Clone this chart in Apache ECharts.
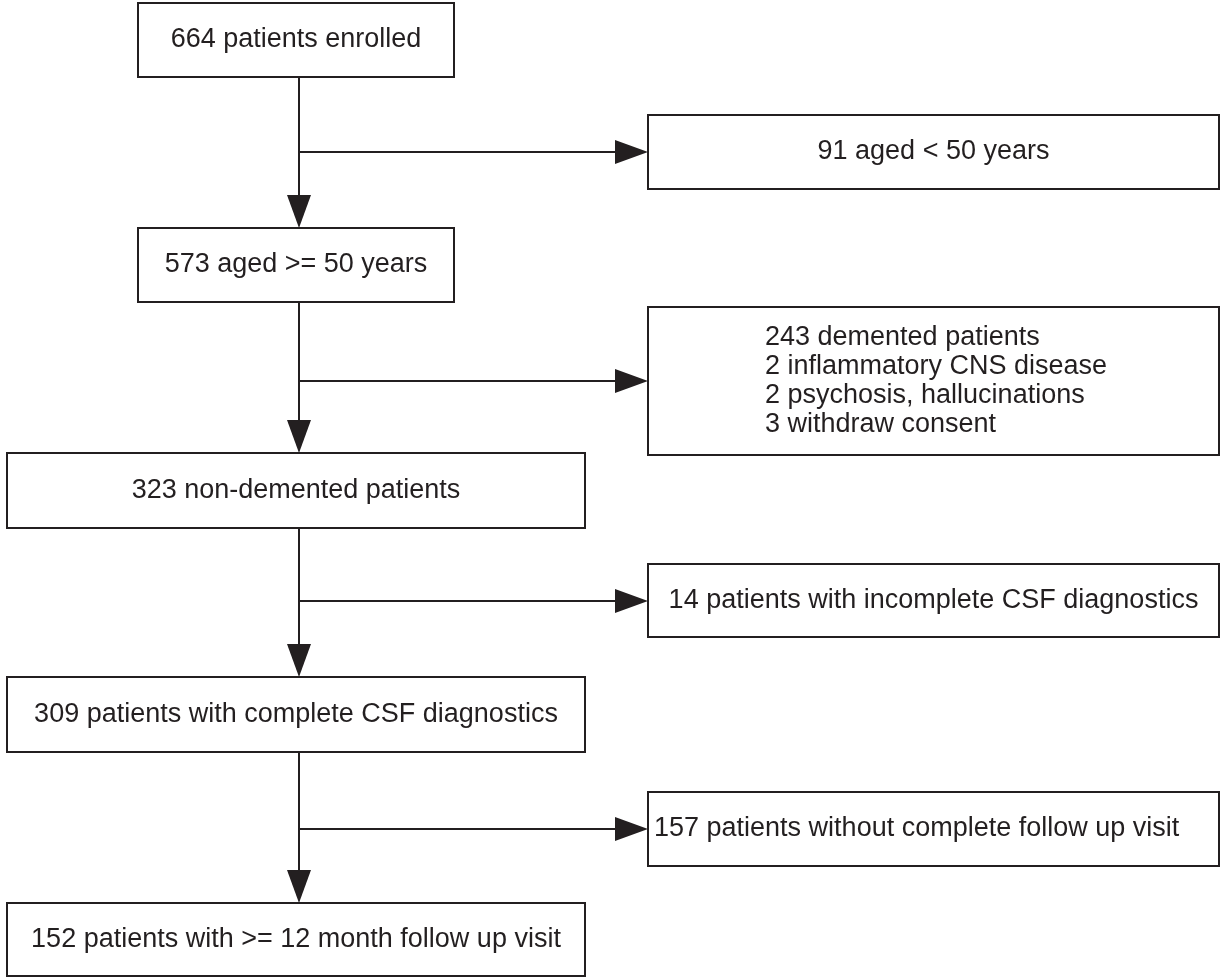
<!DOCTYPE html>
<html>
<head>
<meta charset="utf-8">
<script src="https://cdn.jsdelivr.net/npm/echarts@6/dist/echarts.min.js"></script>
<style>
html,body{margin:0;padding:0;background:#fff;}
#chart{width:1226px;height:977px;}
</style>
</head>
<body>
<div id="chart"></div>
<script>
// ---- content ----
const boxTexts = [
  '664 patients enrolled',
  '91 aged < 50 years',
  '573 aged >= 50 years',
  '243 demented patients\n2 inflammatory CNS disease\n2 psychosis, hallucinations\n3 withdraw consent',
  '323 non-demented patients',
  '14 patients with incomplete CSF diagnostics',
  '309 patients with complete CSF diagnostics',
  '157 patients without complete follow up visit',
  '152 patients with >= 12 month follow up visit'
];
// ---- layout (canvas units) ----
const boxLeft   = [138, 648, 138, 648,   7, 648,   7, 648,   7];
const boxTop    = [  3, 115, 228, 307, 453, 564, 677, 792, 903];
const boxRight  = [454,1219, 454,1219, 585,1219, 585,1219, 585];
const boxBottom = [ 77, 189, 302, 455, 528, 637, 752, 866, 976];
const textAlignMode = ['c','c','c','l','c','c','c','l','c'];
const textLeft  = [  0,   0,   0, 765,   0,   0,   0, 654,   0];
const trunkX = 299;
// vertical arrows: [fromBox, toBox]
const downFrom = [0, 2, 4, 6];
const downTo   = [2, 4, 6, 8];
// horizontal branches: y level and target box
const branchY  = [152, 381, 601, 829];
const branchTo = [1, 3, 5, 7];

const INK = '#231f20';
const FONT = '"Liberation Sans", Arial, Helvetica, sans-serif';

const boxData = boxTexts.map((t, i) => [boxLeft[i], boxTop[i], boxRight[i], boxBottom[i], i]);
const arrowData = [];
downFrom.forEach((f, i) => arrowData.push([trunkX, boxBottom[f], trunkX, boxTop[downTo[i]]]));
branchY.forEach((y, i) => arrowData.push([trunkX, y, boxLeft[branchTo[i]], y]));

const chart = echarts.init(document.getElementById('chart'), null, {renderer: 'canvas'});
chart.setOption({
  animation: false,
  backgroundColor: '#ffffff',
  grid: {left: 0, right: 0, top: 0, bottom: 0},
  xAxis: {type: 'value', min: 0, max: 1226, show: false},
  yAxis: {type: 'value', min: 0, max: 977, inverse: true, show: false},
  series: [
    {
      type: 'custom',
      coordinateSystem: 'cartesian2d',
      data: arrowData,
      renderItem: function (params, api) {
        const a = api.coord([api.value(0), api.value(1)]);
        const b = api.coord([api.value(2), api.value(3)]);
        const dx = b[0] - a[0], dy = b[1] - a[1];
        const len = Math.sqrt(dx * dx + dy * dy);
        const ux = dx / len, uy = dy / len;
        const L = 33, W = 12;
        const base = [b[0] - ux * L, b[1] - uy * L];
        return {
          type: 'group',
          children: [
            {type: 'line', shape: {x1: a[0], y1: a[1], x2: base[0], y2: base[1]},
             style: {stroke: INK, lineWidth: 2}},
            {type: 'polygon', shape: {points: [
              [b[0], b[1]],
              [base[0] - uy * W, base[1] + ux * W],
              [base[0] + uy * W, base[1] - ux * W]
            ]}, style: {fill: INK}}
          ]
        };
      },
      z: 2
    },
    {
      type: 'custom',
      coordinateSystem: 'cartesian2d',
      data: boxData,
      renderItem: function (params, api) {
        const i = api.value(4);
        const p0 = api.coord([api.value(0), api.value(1)]);
        const p1 = api.coord([api.value(2), api.value(3)]);
        const left = textAlignMode[i] === 'l';
        const tx = left ? api.coord([textLeft[i], 0])[0] : (p0[0] + p1[0]) / 2;
        return {
          type: 'group',
          children: [
            {type: 'rect', shape: {x: p0[0], y: p0[1], width: p1[0] - p0[0], height: p1[1] - p0[1]},
             style: {fill: '#ffffff', stroke: INK, lineWidth: 2}},
            {type: 'text', x: tx, y: (p0[1] + p1[1]) / 2,
             style: {text: boxTexts[i], fill: INK, font: '27px ' + FONT,
                     align: left ? 'left' : 'center', verticalAlign: 'middle', lineHeight: 29}}
          ]
        };
      },
      z: 3
    }
  ]
});
</script>
</body>
</html>
